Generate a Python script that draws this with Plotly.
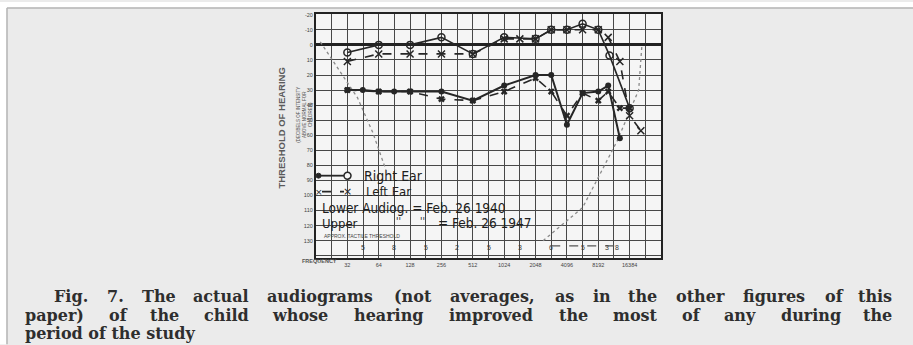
import math
import plotly.graph_objects as go

# ---------------- data ----------------
freq_upper_right = [32, 64, 128, 256, 512, 1024, 2048, 2896, 4096, 5793, 8192, 10500, 16384]
db_upper_right = [5, 0, 0, -5, 6, -5, -4, -10, -10, -14, -10, 7, 42]

freq_upper_left = [32, 64, 128, 256, 512, 1024, 1448, 2048, 2896, 4096, 5793, 8192, 10200, 13200, 16384, 21000]
db_upper_left = [11, 6, 6, 6, 6, -4, -4, -4, -10, -10, -10, -10, -5, 11, 47, 57]

freq_lower_right = [32, 45, 64, 90, 128, 256, 512, 1024, 2048, 2896, 4096, 5793, 8192, 10200, 13200]
db_lower_right = [30, 30, 31, 31, 31, 31, 37, 27, 20, 20, 53, 32, 31, 27, 62]

freq_lower_left = [32, 64, 128, 256, 512, 1024, 2048, 2896, 4096, 5793, 8192, 10200, 13200, 16384]
db_lower_left = [30, 31, 31, 36, 37, 31, 22, 31, 47, 32, 37, 31, 42, 42]

tactile_left_freq = [17.6, 40, 56, 75]
tactile_left_db = [-2, 35, 58, 83]
tactile_right_freq = [2420, 5800, 12400, 20000, 21500]
tactile_right_db = [130, 108, 64, 30, 0]
tactile_row_freq = [2896, 12400]
tactile_row_db = [133.5, 133.5]

tactile_mark_freq = [45, 90, 181, 362, 724, 1448, 2896, 5793, 10000, 12400]
tactile_mark_text = ["5", "8", "5", "2", "5", "3", "6", "5", "3", "8"]
tactile_mark_db = 134.5

freq_grid = [16 * 2 ** (k / 2) for k in range(23)]
freq_labels = {32: "32", 64: "64", 128: "128", 256: "256", 512: "512", 1024: "1024",
               2048: "2048", 4096: "4096", 8192: "8192", 16384: "16384"}
db_grid = list(range(-20, 150, 10))

legend_labels = ["Right Ear", "Left Ear"]
caption_lines = [
    "Fig. 7. The actual audiograms (not averages, as in the other figures of this",
    "paper) of the child whose hearing improved the most of any during the",
    "period of the study",
]

# ---------------- layout geometry (pixels) ----------------
W, H = 913, 345
L, R, T, B = 316, 661, 12, 258


def px_x(px):
    return (px - L) / (R - L)


def px_y(py):
    return (B - py) / (B - T)


INK = "#262626"
fig = go.Figure()

fig.add_trace(go.Scatter(x=tactile_left_freq, y=tactile_left_db, mode="lines",
                         line=dict(color="#8a8a8a", width=1.3, dash="dot"), showlegend=False))
fig.add_trace(go.Scatter(x=tactile_right_freq, y=tactile_right_db, mode="lines",
                         line=dict(color="#8a8a8a", width=1.3, dash="dot"), showlegend=False))
fig.add_trace(go.Scatter(x=tactile_row_freq, y=tactile_row_db, mode="lines",
                         line=dict(color="#555", width=1.2, dash="dash"), showlegend=False))

fig.add_trace(go.Scatter(x=freq_lower_left, y=db_lower_left, mode="lines+markers",
                         line=dict(color=INK, width=1.6, dash="dash"),
                         marker=dict(symbol="x", size=6, color=INK), showlegend=False))
fig.add_trace(go.Scatter(x=freq_lower_right, y=db_lower_right, mode="lines+markers",
                         line=dict(color=INK, width=2),
                         marker=dict(symbol="circle", size=6, color=INK), showlegend=False))
fig.add_trace(go.Scatter(x=freq_upper_right, y=db_upper_right, mode="lines+markers", name=legend_labels[0],
                         line=dict(color=INK, width=1.6), showlegend=False,
                         marker=dict(symbol="circle-open", size=7, color=INK, line=dict(width=1.5))))
fig.add_trace(go.Scatter(x=freq_upper_left, y=db_upper_left, mode="lines+markers", name=legend_labels[1],
                         line=dict(color=INK, width=1.6, dash="dash"), showlegend=False,
                         marker=dict(symbol="x-thin", size=7, color=INK, line=dict(width=1.5, color=INK))))

hand = dict(family="DejaVu Sans Condensed, DejaVu Sans", size=14, color="#1e1e1e")
hand_s = dict(family="DejaVu Sans Condensed, DejaVu Sans", size=13, color="#1e1e1e")

ann = []
for f, t in zip(tactile_mark_freq, tactile_mark_text):
    ann.append(dict(x=math.log10(f), y=tactile_mark_db, xref="x", yref="y", text=t, showarrow=False,
                    font=dict(family="Liberation Sans", size=7, color="#3a3a3a")))

# hand-drawn legend
ann += [
    dict(x=px_x(362), y=px_y(175), xref="paper", yref="paper", text=legend_labels[0],
         xanchor="left", yanchor="middle", showarrow=False, font=hand),
    dict(x=px_x(364), y=px_y(191), xref="paper", yref="paper", text=legend_labels[1],
         xanchor="left", yanchor="middle", showarrow=False, font=hand_s),
    dict(x=px_x(347), y=px_y(191), xref="paper", yref="paper", text="×",
         xanchor="center", yanchor="middle", showarrow=False,
         font=dict(family="DejaVu Sans", size=11, color=INK)),
    dict(x=px_x(319), y=px_y(191), xref="paper", yref="paper", text="×",
         xanchor="center", yanchor="middle", showarrow=False,
         font=dict(family="DejaVu Sans", size=9, color=INK)),
]

ann += [
    dict(x=px_x(320), y=px_y(208), xref="paper", yref="paper", text="Lower Audiog. = Feb. 26 1940",
         xanchor="left", yanchor="middle", showarrow=False, font=dict(hand_s, size=13.5)),
    dict(x=px_x(320), y=px_y(223), xref="paper", yref="paper", text="Upper",
         xanchor="left", yanchor="middle", showarrow=False, font=hand_s),
    dict(x=px_x(398), y=px_y(221), xref="paper", yref="paper", text="''",
         xanchor="center", yanchor="middle", showarrow=False, font=dict(hand_s, size=10)),
    dict(x=px_x(422), y=px_y(221), xref="paper", yref="paper", text="''",
         xanchor="center", yanchor="middle", showarrow=False, font=dict(hand_s, size=10)),
    dict(x=px_x(436), y=px_y(223), xref="paper", yref="paper", text="= Feb. 26 1947",
         xanchor="left", yanchor="middle", showarrow=False, font=dict(hand_s, size=13.5)),
    dict(x=px_x(322), y=px_y(235.5), xref="paper", yref="paper", text="APPROX. TACTILE THRESHOLD",
         xanchor="left", yanchor="middle", showarrow=False,
         font=dict(family="Liberation Sans", size=5, color="#444")),
    dict(x=px_x(274), y=px_y(127), xref="paper", yref="paper", text="<b>THRESHOLD OF HEARING</b>",
         textangle=-90, showarrow=False, font=dict(family="Liberation Sans", size=9.5, color="#5a5a5a")),
    dict(x=px_x(294), y=px_y(114), xref="paper", yref="paper",
         text="(DECIBELS OF INTENSITY<br>ABOVE NORMAL FOR<br>CHILDREN)",
         textangle=-90, showarrow=False, font=dict(family="Liberation Sans", size=4.5, color="#555")),
    dict(x=px_x(300), y=px_y(266), xref="paper", yref="paper", text="<b>FREQUENCY</b>",
         showarrow=False, font=dict(family="Liberation Sans", size=5.5, color="#555")),
]

# ---- caption, justified word by word (estimated glyph widths of DejaVu Serif Bold) ----
CW = {"a": .675, "b": .715, "c": .59, "d": .715, "e": .64, "f": .435, "g": .715, "h": .76, "i": .38,
      "j": .38, "k": .73, "l": .38, "m": 1.1, "n": .76, "o": .69, "p": .715, "q": .715, "r": .54,
      "s": .595, "t": .48, "u": .76, "v": .65, "w": .95, "x": .68, "y": .65, "z": .6, "F": .76,
      "T": .73, ".": .38, ",": .38, "(": .47, ")": .47, "7": .70}
cap_size = 16
cap_font = dict(family="DejaVu Serif", size=cap_size, color="#2e2e2e")
cap_spec = [(52, 894, 297, True), (23, 894, 315.5, True), (23, 0, 334.5, False)]
for line, (x0, x1, cy, justify) in zip(caption_lines, cap_spec):
    words = line.split(" ")
    if not justify:
        ann.append(dict(x=px_x(x0), y=px_y(cy), xref="paper", yref="paper", text="<b>" + line + "</b>",
                        xanchor="left", yanchor="middle", showarrow=False, font=cap_font))
        continue
    widths = [sum(CW.get(c, .65) for c in w) * cap_size for w in words]
    gap = (x1 - x0 - sum(widths)) / (len(words) - 1)
    pos = x0
    for i, (w, wd) in enumerate(zip(words, widths)):
        last = i == len(words) - 1
        ann.append(dict(x=px_x(x1 if last else pos), y=px_y(cy), xref="paper", yref="paper",
                        text="<b>" + w + "</b>", xanchor="right" if last else "left",
                        yanchor="middle", showarrow=False, font=cap_font))
        pos += wd + gap

shapes = [
    dict(type="rect", xref="paper", yref="paper", x0=px_x(0), x1=px_x(913), y0=px_y(0), y1=px_y(5.5),
         fillcolor="white", line=dict(width=0), layer="below"),
    dict(type="rect", xref="paper", yref="paper", x0=px_x(0), x1=px_x(6.5), y0=px_y(0), y1=px_y(345),
         fillcolor="white", line=dict(width=0), layer="below"),
    dict(type="line", xref="paper", yref="paper", x0=px_x(7), x1=px_x(913), y0=px_y(6), y1=px_y(6),
         line=dict(color="#b4b4b4", width=1.5)),
    dict(type="line", xref="paper", yref="paper", x0=px_x(7), x1=px_x(7), y0=px_y(6), y1=px_y(345),
         line=dict(color="#b4b4b4", width=1.5)),
    # legend samples
    dict(type="line", xref="paper", yref="paper", x0=px_x(318), x1=px_x(344), y0=px_y(175), y1=px_y(175),
         line=dict(color=INK, width=1.8)),
    dict(type="circle", xref="paper", yref="paper", x0=px_x(344), x1=px_x(351), y0=px_y(171.5),
         y1=px_y(178.5), line=dict(color=INK, width=1.5), fillcolor="#f5f5f5"),
    dict(type="circle", xref="paper", yref="paper", x0=px_x(316), x1=px_x(321), y0=px_y(172.5),
         y1=px_y(177.5), line=dict(color=INK, width=1), fillcolor=INK),
    dict(type="line", xref="paper", yref="paper", x0=px_x(322), x1=px_x(344), y0=px_y(191), y1=px_y(191),
         line=dict(color=INK, width=1.8, dash="dash")),
]

fig.update_layout(
    width=W, height=H,
    margin=dict(l=L, r=W - R, t=T, b=H - B, pad=0),
    paper_bgcolor="#ebebeb", plot_bgcolor="#f5f5f5",
    annotations=ann, shapes=shapes, showlegend=False,
    xaxis=dict(type="log", range=[1.20412, 4.51545], tickvals=freq_grid,
               ticktext=[freq_labels.get(round(f), "") for f in freq_grid],
               showgrid=True, gridcolor="#474747", gridwidth=1.4,
               showline=True, mirror=True, linecolor="#222", linewidth=2,
               ticks="", tickfont=dict(family="Liberation Sans", size=5.5, color="#444"),
               zeroline=False),
    yaxis=dict(range=[141.5, -20.5], tickvals=db_grid,
               ticktext=[str(v) if v <= 130 else "" for v in db_grid],
               showgrid=True, gridcolor="#474747", gridwidth=1.4,
               zeroline=True, zerolinecolor="#222", zerolinewidth=2.6,
               showline=True, mirror=True, linecolor="#222", linewidth=2,
               ticks="", tickfont=dict(family="Liberation Sans", size=5.5, color="#444")),
)

fig.write_html("out.html", post_script="document.body.style.margin='0';",
               config={"displayModeBar": False})
